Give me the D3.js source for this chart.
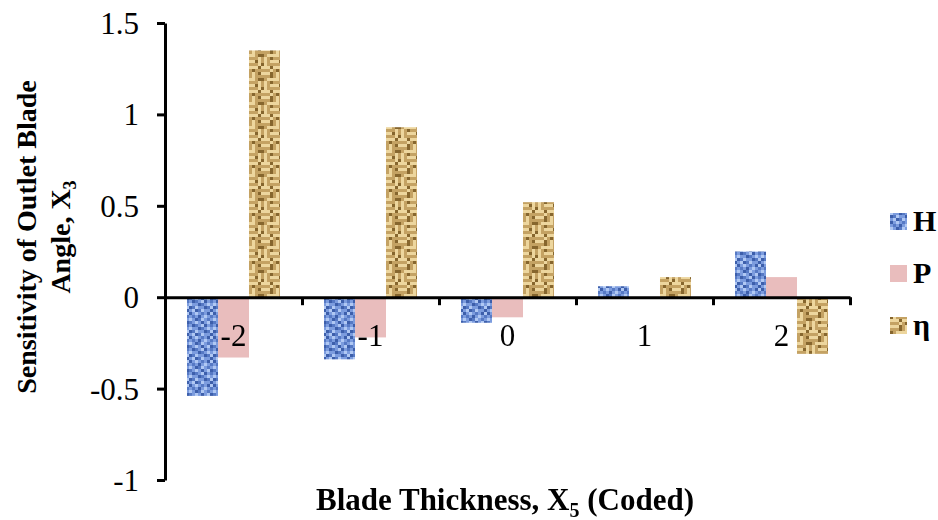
<!DOCTYPE html>
<html>
<head>
<meta charset="utf-8">
<script src="https://cdn.jsdelivr.net/npm/d3@7"></script>
<style>
  html, body { margin: 0; padding: 0; background: #fff; }
  svg { display: block; }
</style>
</head>
<body>
<svg id="chart" width="938" height="520"></svg>
<script>
// Coded levels of blade thickness
const categories = ["-2", "-1", "0", "1", "2"];
// Series names (head, power, efficiency)
const seriesNames = ["H", "P", "η"];
// Sensitivity values per series
const hValues = [-0.54, -0.34, -0.14, 0.06, 0.25];
const pValues = [-0.33, -0.22, -0.11, 0.0, 0.11];
const etaValues = [1.35, 0.93, 0.52, 0.11, -0.31];
// Y-axis tick labels
const yTicks = [1.5, 1, 0.5, 0, -0.5, -1];

const seriesValues = [hValues, pValues, etaValues];
const rows = categories.map((c, i) => ({
  cat: c,
  values: seriesNames.map((s, k) => ({ series: s, value: seriesValues[k][i] }))
}));

const svg = d3.select("#chart");
const defs = svg.append("defs");

// Texture tiles for the fills
function tilePattern(id, grid, palette, cell) {
  const n = grid.length;
  const p = defs.append("pattern")
    .attr("id", id)
    .attr("patternUnits", "userSpaceOnUse")
    .attr("width", n * cell).attr("height", n * cell);
  grid.forEach((row, r) => {
    row.split("").forEach((ch, c) => {
      p.append("rect")
        .attr("x", c * cell).attr("y", r * cell)
        .attr("width", cell).attr("height", cell)
        .attr("fill", palette[ch]);
    });
  });
}

tilePattern("texH", [
  "bmlmdmbl",
  "mdmbmlmd",
  "lmbdlmdm",
  "dmlmbmlb",
  "mbdmlbmd",
  "lmmbdmlm",
  "bdlmmbdl",
  "mlbdlmmb"
], { b: "#3c5fab", d: "#5679c4", m: "#7c9cde", l: "#b0c8f3" }, 3);

tilePattern("texEta", [
  "LLLDMLMD",
  "MMMDMLMM",
  "DMLLLLMD",
  "MLMDMMML",
  "MLMLLLDL",
  "DLMMMMML",
  "LLLDLLLD",
  "MMMLMDMM"
], { L: "#edd69e", M: "#c4a264", D: "#86662f" }, 3);

const soften = defs.append("filter").attr("id", "soften");
soften.append("feGaussianBlur").attr("stdDeviation", 0.7);

const fills = { "H": "url(#texH)", "P": "#e9bdbd", "η": "url(#texEta)" };

const x = d3.scaleBand().domain(categories).range([165, 850]).padding(0);
const xs = d3.scaleBand().domain(seriesNames).range([0, x.bandwidth()])
  .paddingInner(0).paddingOuter(0.71);
const y = d3.scaleLinear().domain([-1, 1.5]).range([480, 23]);

const serif = "'Liberation Serif', 'Times New Roman', serif";

// Bars
const groups = svg.append("g").attr("filter", "url(#soften)")
  .selectAll("g").data(rows).join("g")
  .attr("transform", d => `translate(${x(d.cat)},0)`);
groups.selectAll("rect").data(d => d.values).join("rect")
  .attr("x", d => xs(d.series))
  .attr("width", xs.bandwidth())
  .attr("y", d => y(Math.max(0, d.value)))
  .attr("height", d => Math.abs(y(d.value) - y(0)))
  .attr("fill", d => fills[d.series]);

// Y axis
const yAxis = svg.append("g")
  .attr("transform", "translate(165,0)")
  .call(d3.axisLeft(y).tickValues(yTicks).tickSize(8).tickSizeOuter(0)
    .tickPadding(18).tickFormat(d => String(d)));
yAxis.select(".domain").attr("stroke", "#000").attr("stroke-width", 3);
yAxis.selectAll(".tick line").attr("stroke", "#000").attr("stroke-width", 3);
yAxis.selectAll(".tick text")
  .attr("font-family", serif).attr("font-size", 31).attr("fill", "#000")
  .attr("dy", "0.34em");

// X axis: line at zero with ticks on category boundaries
const xb = d3.scaleLinear().domain([0, categories.length]).range([165, 850]);
const xAxis = svg.append("g")
  .attr("transform", `translate(0,${y(0)})`)
  .call(d3.axisBottom(xb).tickValues([1, 2, 3, 4, 5]).tickSize(8)
    .tickSizeOuter(0).tickFormat(""));
xAxis.select(".domain").attr("stroke", "#000").attr("stroke-width", 3);
xAxis.selectAll(".tick line").attr("stroke", "#000").attr("stroke-width", 3);

// Category labels
svg.append("g").selectAll("text").data(categories).join("text")
  .attr("x", d => x(d) + x.bandwidth() / 2)
  .attr("y", 346)
  .attr("text-anchor", "middle")
  .attr("font-family", serif).attr("font-size", 31).attr("fill", "#000")
  .text(d => d);

// X axis title
const xt = svg.append("text")
  .attr("x", 505).attr("y", 510)
  .attr("text-anchor", "middle")
  .attr("font-family", serif).attr("font-size", 31).attr("font-weight", "bold");
xt.append("tspan").text("Blade Thickness, X");
xt.append("tspan").attr("font-size", 20).attr("dy", 7).text("5");
xt.append("tspan").attr("dy", -7).text(" (Coded)");

// Y axis title (two lines)
const yt = svg.append("g").attr("transform", "translate(0,237) rotate(-90)");
yt.append("text")
  .attr("x", 0).attr("y", 36)
  .attr("text-anchor", "middle")
  .attr("font-family", serif).attr("font-size", 28).attr("font-weight", "bold")
  .text("Sensitivity of Outlet Blade");
const yt2 = yt.append("text")
  .attr("x", 0).attr("y", 70)
  .attr("text-anchor", "middle")
  .attr("font-family", serif).attr("font-size", 28).attr("font-weight", "bold");
yt2.append("tspan").text("Angle, X");
yt2.append("tspan").attr("font-size", 18).attr("dy", 6).text("3");

// Legend
const legend = svg.append("g").selectAll("g").data(seriesNames).join("g")
  .attr("transform", (d, i) => `translate(890,${221 + i * 52})`);
legend.append("rect")
  .attr("x", 0).attr("y", -8).attr("width", 17).attr("height", 17)
  .attr("fill", d => fills[d])
  .attr("filter", "url(#soften)");
legend.append("text")
  .attr("x", 23).attr("y", 10)
  .attr("font-family", serif).attr("font-size", 30).attr("font-weight", "bold")
  .text(d => d);
</script>
</body>
</html>
